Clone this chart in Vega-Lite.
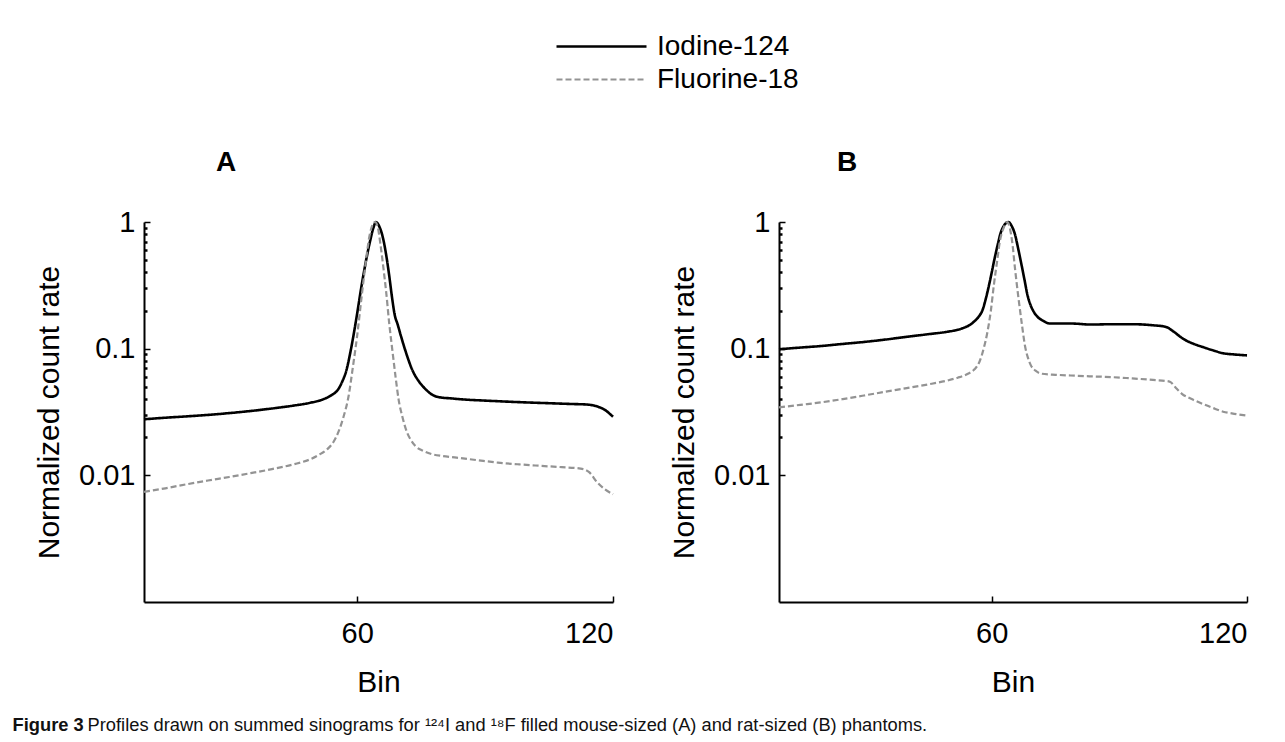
{
  "$schema": "https://vega.github.io/schema/vega-lite/v6.json",
  "padding": {"left": 12, "top": 30, "right": 5, "bottom": 2},
  "background": "white",
  "config": {
    "view": {"stroke": null},
    "font": "Liberation Sans",
    "axis": {"domainColor": "black", "domainWidth": 2, "tickColor": "black", "tickWidth": 1.5, "labelColor": "black", "titleColor": "black", "labelFont": "Liberation Sans", "titleFont": "Liberation Sans", "labelFontSize": 29, "titleFontSize": 30, "titleFontWeight": "normal", "grid": false},
    "legend": {"labelFont": "Liberation Sans", "labelFontSize": 28, "labelColor": "black"}
  },
  "title": {"text": "Figure 3", "orient": "bottom", "anchor": "start", "frame": "bounds", "fontWeight": "bold", "fontSize": 18.3, "font": "Liberation Sans", "color": "#111", "offset": -17, "dx": -22},
  "datasets": {
    "A": [
      {"series": "Iodine-124", "bin": 10, "rate": 0.0277},
      {"series": "Iodine-124", "bin": 15, "rate": 0.0285},
      {"series": "Iodine-124", "bin": 20, "rate": 0.0292},
      {"series": "Iodine-124", "bin": 25, "rate": 0.0300},
      {"series": "Iodine-124", "bin": 30, "rate": 0.0310},
      {"series": "Iodine-124", "bin": 35, "rate": 0.0322},
      {"series": "Iodine-124", "bin": 40, "rate": 0.0337},
      {"series": "Iodine-124", "bin": 45, "rate": 0.0355},
      {"series": "Iodine-124", "bin": 49, "rate": 0.0374},
      {"series": "Iodine-124", "bin": 52, "rate": 0.0398},
      {"series": "Iodine-124", "bin": 54, "rate": 0.0430},
      {"series": "Iodine-124", "bin": 55.5, "rate": 0.0475},
      {"series": "Iodine-124", "bin": 56.5, "rate": 0.055},
      {"series": "Iodine-124", "bin": 57.5, "rate": 0.068},
      {"series": "Iodine-124", "bin": 58.3, "rate": 0.09},
      {"series": "Iodine-124", "bin": 59, "rate": 0.12},
      {"series": "Iodine-124", "bin": 60, "rate": 0.19},
      {"series": "Iodine-124", "bin": 61, "rate": 0.31},
      {"series": "Iodine-124", "bin": 62, "rate": 0.48},
      {"series": "Iodine-124", "bin": 63, "rate": 0.70},
      {"series": "Iodine-124", "bin": 63.8, "rate": 0.90},
      {"series": "Iodine-124", "bin": 64.4, "rate": 1.0},
      {"series": "Iodine-124", "bin": 65.2, "rate": 0.92},
      {"series": "Iodine-124", "bin": 66, "rate": 0.76},
      {"series": "Iodine-124", "bin": 66.8, "rate": 0.55},
      {"series": "Iodine-124", "bin": 67.5, "rate": 0.38},
      {"series": "Iodine-124", "bin": 68.2, "rate": 0.25},
      {"series": "Iodine-124", "bin": 68.8, "rate": 0.185},
      {"series": "Iodine-124", "bin": 69.5, "rate": 0.155},
      {"series": "Iodine-124", "bin": 70.2, "rate": 0.128},
      {"series": "Iodine-124", "bin": 71, "rate": 0.104},
      {"series": "Iodine-124", "bin": 72, "rate": 0.082},
      {"series": "Iodine-124", "bin": 73, "rate": 0.067},
      {"series": "Iodine-124", "bin": 74.5, "rate": 0.055},
      {"series": "Iodine-124", "bin": 76, "rate": 0.048},
      {"series": "Iodine-124", "bin": 77.5, "rate": 0.0435},
      {"series": "Iodine-124", "bin": 79, "rate": 0.0415},
      {"series": "Iodine-124", "bin": 82, "rate": 0.0405},
      {"series": "Iodine-124", "bin": 86, "rate": 0.0395},
      {"series": "Iodine-124", "bin": 90, "rate": 0.0389},
      {"series": "Iodine-124", "bin": 95, "rate": 0.0382},
      {"series": "Iodine-124", "bin": 100, "rate": 0.0376},
      {"series": "Iodine-124", "bin": 105, "rate": 0.0371},
      {"series": "Iodine-124", "bin": 110, "rate": 0.0366},
      {"series": "Iodine-124", "bin": 114, "rate": 0.0362},
      {"series": "Iodine-124", "bin": 116, "rate": 0.0352},
      {"series": "Iodine-124", "bin": 118, "rate": 0.0330},
      {"series": "Iodine-124", "bin": 120, "rate": 0.0290},
      {"series": "Fluorine-18", "bin": 10, "rate": 0.0074},
      {"series": "Fluorine-18", "bin": 15, "rate": 0.0079},
      {"series": "Fluorine-18", "bin": 20, "rate": 0.0085},
      {"series": "Fluorine-18", "bin": 25, "rate": 0.0091},
      {"series": "Fluorine-18", "bin": 30, "rate": 0.0097},
      {"series": "Fluorine-18", "bin": 35, "rate": 0.0104},
      {"series": "Fluorine-18", "bin": 40, "rate": 0.0112},
      {"series": "Fluorine-18", "bin": 45, "rate": 0.0122},
      {"series": "Fluorine-18", "bin": 49, "rate": 0.0134},
      {"series": "Fluorine-18", "bin": 51, "rate": 0.0145},
      {"series": "Fluorine-18", "bin": 53, "rate": 0.0161},
      {"series": "Fluorine-18", "bin": 54.5, "rate": 0.0185},
      {"series": "Fluorine-18", "bin": 55.6, "rate": 0.022},
      {"series": "Fluorine-18", "bin": 56.8, "rate": 0.029},
      {"series": "Fluorine-18", "bin": 58, "rate": 0.0425},
      {"series": "Fluorine-18", "bin": 59, "rate": 0.072},
      {"series": "Fluorine-18", "bin": 60, "rate": 0.127},
      {"series": "Fluorine-18", "bin": 61, "rate": 0.25},
      {"series": "Fluorine-18", "bin": 61.8, "rate": 0.42},
      {"series": "Fluorine-18", "bin": 62.9, "rate": 0.78},
      {"series": "Fluorine-18", "bin": 63.6, "rate": 0.95},
      {"series": "Fluorine-18", "bin": 64.2, "rate": 1.0},
      {"series": "Fluorine-18", "bin": 64.8, "rate": 0.92},
      {"series": "Fluorine-18", "bin": 65.5, "rate": 0.65},
      {"series": "Fluorine-18", "bin": 66.2, "rate": 0.42},
      {"series": "Fluorine-18", "bin": 66.8, "rate": 0.28},
      {"series": "Fluorine-18", "bin": 67.5, "rate": 0.16},
      {"series": "Fluorine-18", "bin": 68.3, "rate": 0.094},
      {"series": "Fluorine-18", "bin": 69, "rate": 0.060},
      {"series": "Fluorine-18", "bin": 69.7, "rate": 0.040},
      {"series": "Fluorine-18", "bin": 70.6, "rate": 0.029},
      {"series": "Fluorine-18", "bin": 71.7, "rate": 0.0218},
      {"series": "Fluorine-18", "bin": 72.6, "rate": 0.019},
      {"series": "Fluorine-18", "bin": 73.6, "rate": 0.0171},
      {"series": "Fluorine-18", "bin": 75.5, "rate": 0.0156},
      {"series": "Fluorine-18", "bin": 77.5, "rate": 0.0147},
      {"series": "Fluorine-18", "bin": 80, "rate": 0.0142},
      {"series": "Fluorine-18", "bin": 83.3, "rate": 0.0138},
      {"series": "Fluorine-18", "bin": 88, "rate": 0.0132},
      {"series": "Fluorine-18", "bin": 93, "rate": 0.0126},
      {"series": "Fluorine-18", "bin": 98, "rate": 0.0122},
      {"series": "Fluorine-18", "bin": 102.7, "rate": 0.0119},
      {"series": "Fluorine-18", "bin": 108, "rate": 0.0116},
      {"series": "Fluorine-18", "bin": 112.4, "rate": 0.0113},
      {"series": "Fluorine-18", "bin": 114.4, "rate": 0.0106},
      {"series": "Fluorine-18", "bin": 116.3, "rate": 0.0088},
      {"series": "Fluorine-18", "bin": 118, "rate": 0.0078},
      {"series": "Fluorine-18", "bin": 120, "rate": 0.0071}
    ],
    "B": [
      {"series": "Iodine-124", "bin": 10, "rate": 0.099},
      {"series": "Iodine-124", "bin": 15, "rate": 0.102},
      {"series": "Iodine-124", "bin": 20, "rate": 0.105},
      {"series": "Iodine-124", "bin": 25, "rate": 0.109},
      {"series": "Iodine-124", "bin": 30, "rate": 0.113},
      {"series": "Iodine-124", "bin": 35, "rate": 0.118},
      {"series": "Iodine-124", "bin": 40, "rate": 0.124},
      {"series": "Iodine-124", "bin": 45, "rate": 0.130},
      {"series": "Iodine-124", "bin": 49.6, "rate": 0.136},
      {"series": "Iodine-124", "bin": 52, "rate": 0.141},
      {"series": "Iodine-124", "bin": 53.4, "rate": 0.146},
      {"series": "Iodine-124", "bin": 55, "rate": 0.155},
      {"series": "Iodine-124", "bin": 55.8, "rate": 0.163},
      {"series": "Iodine-124", "bin": 57, "rate": 0.180},
      {"series": "Iodine-124", "bin": 57.8, "rate": 0.20},
      {"series": "Iodine-124", "bin": 58.5, "rate": 0.24},
      {"series": "Iodine-124", "bin": 59.2, "rate": 0.30},
      {"series": "Iodine-124", "bin": 60, "rate": 0.40},
      {"series": "Iodine-124", "bin": 60.7, "rate": 0.52},
      {"series": "Iodine-124", "bin": 61.4, "rate": 0.66},
      {"series": "Iodine-124", "bin": 62.1, "rate": 0.82},
      {"series": "Iodine-124", "bin": 63, "rate": 0.95},
      {"series": "Iodine-124", "bin": 63.9, "rate": 1.0},
      {"series": "Iodine-124", "bin": 64.7, "rate": 0.93},
      {"series": "Iodine-124", "bin": 65.5, "rate": 0.79},
      {"series": "Iodine-124", "bin": 66.2, "rate": 0.62},
      {"series": "Iodine-124", "bin": 67, "rate": 0.46},
      {"series": "Iodine-124", "bin": 67.7, "rate": 0.35},
      {"series": "Iodine-124", "bin": 68.4, "rate": 0.265},
      {"series": "Iodine-124", "bin": 69.1, "rate": 0.222},
      {"series": "Iodine-124", "bin": 69.9, "rate": 0.195},
      {"series": "Iodine-124", "bin": 70.8, "rate": 0.178},
      {"series": "Iodine-124", "bin": 71.8, "rate": 0.168},
      {"series": "Iodine-124", "bin": 73.7, "rate": 0.158},
      {"series": "Iodine-124", "bin": 78.6, "rate": 0.158},
      {"series": "Iodine-124", "bin": 83.4, "rate": 0.155},
      {"series": "Iodine-124", "bin": 88.3, "rate": 0.156},
      {"series": "Iodine-124", "bin": 93.1, "rate": 0.156},
      {"series": "Iodine-124", "bin": 97.9, "rate": 0.153},
      {"series": "Iodine-124", "bin": 100.8, "rate": 0.149},
      {"series": "Iodine-124", "bin": 102.8, "rate": 0.136},
      {"series": "Iodine-124", "bin": 104.2, "rate": 0.125},
      {"series": "Iodine-124", "bin": 105.7, "rate": 0.116},
      {"series": "Iodine-124", "bin": 107.5, "rate": 0.109},
      {"series": "Iodine-124", "bin": 109.6, "rate": 0.103},
      {"series": "Iodine-124", "bin": 112, "rate": 0.097},
      {"series": "Iodine-124", "bin": 114.4, "rate": 0.092},
      {"series": "Iodine-124", "bin": 117, "rate": 0.090},
      {"series": "Iodine-124", "bin": 120, "rate": 0.0885},
      {"series": "Fluorine-18", "bin": 10, "rate": 0.0344},
      {"series": "Fluorine-18", "bin": 15, "rate": 0.036},
      {"series": "Fluorine-18", "bin": 20, "rate": 0.0377},
      {"series": "Fluorine-18", "bin": 25, "rate": 0.040},
      {"series": "Fluorine-18", "bin": 30, "rate": 0.0427},
      {"series": "Fluorine-18", "bin": 35, "rate": 0.0457},
      {"series": "Fluorine-18", "bin": 40, "rate": 0.0488},
      {"series": "Fluorine-18", "bin": 45, "rate": 0.0522},
      {"series": "Fluorine-18", "bin": 49.6, "rate": 0.0561},
      {"series": "Fluorine-18", "bin": 52, "rate": 0.059},
      {"series": "Fluorine-18", "bin": 54.4, "rate": 0.0634},
      {"series": "Fluorine-18", "bin": 56, "rate": 0.069},
      {"series": "Fluorine-18", "bin": 57.1, "rate": 0.0784},
      {"series": "Fluorine-18", "bin": 58.1, "rate": 0.100},
      {"series": "Fluorine-18", "bin": 59, "rate": 0.136},
      {"series": "Fluorine-18", "bin": 59.8, "rate": 0.20},
      {"series": "Fluorine-18", "bin": 60.5, "rate": 0.318},
      {"series": "Fluorine-18", "bin": 61.3, "rate": 0.50},
      {"series": "Fluorine-18", "bin": 61.9, "rate": 0.70},
      {"series": "Fluorine-18", "bin": 62.8, "rate": 0.90},
      {"series": "Fluorine-18", "bin": 63.7, "rate": 1.0},
      {"series": "Fluorine-18", "bin": 64.3, "rate": 0.88},
      {"series": "Fluorine-18", "bin": 64.8, "rate": 0.70},
      {"series": "Fluorine-18", "bin": 65.5, "rate": 0.42},
      {"series": "Fluorine-18", "bin": 66.3, "rate": 0.249},
      {"series": "Fluorine-18", "bin": 67.1, "rate": 0.155},
      {"series": "Fluorine-18", "bin": 67.8, "rate": 0.106},
      {"series": "Fluorine-18", "bin": 68.5, "rate": 0.085},
      {"series": "Fluorine-18", "bin": 69.2, "rate": 0.0738},
      {"series": "Fluorine-18", "bin": 70.3, "rate": 0.067},
      {"series": "Fluorine-18", "bin": 71.8, "rate": 0.0634},
      {"series": "Fluorine-18", "bin": 75, "rate": 0.0622},
      {"series": "Fluorine-18", "bin": 78.6, "rate": 0.0614},
      {"series": "Fluorine-18", "bin": 83, "rate": 0.0605},
      {"series": "Fluorine-18", "bin": 88.3, "rate": 0.0596},
      {"series": "Fluorine-18", "bin": 93, "rate": 0.0582},
      {"series": "Fluorine-18", "bin": 97.9, "rate": 0.0567},
      {"series": "Fluorine-18", "bin": 101.8, "rate": 0.055},
      {"series": "Fluorine-18", "bin": 103.3, "rate": 0.049},
      {"series": "Fluorine-18", "bin": 104.7, "rate": 0.044},
      {"series": "Fluorine-18", "bin": 107, "rate": 0.040},
      {"series": "Fluorine-18", "bin": 109.6, "rate": 0.0366},
      {"series": "Fluorine-18", "bin": 112, "rate": 0.034},
      {"series": "Fluorine-18", "bin": 114.4, "rate": 0.0318},
      {"series": "Fluorine-18", "bin": 117, "rate": 0.0306},
      {"series": "Fluorine-18", "bin": 120, "rate": 0.0296}
    ]
  },
  "vconcat": [
    {
      "title": {"text": "Profiles drawn on summed sinograms for ¹²⁴I and ¹⁸F filled mouse-sized (A) and rat-sized (B) phantoms.", "orient": "bottom", "anchor": "start", "frame": "bounds", "fontWeight": "normal", "fontSize": 18.3, "font": "Liberation Sans", "color": "#111", "dx": 53, "offset": 20},
      "resolve": {"scale": {"color": "shared", "strokeDash": "shared", "strokeWidth": "shared"}},
      "spacing": 50,
      "hconcat": [
        {
          "width": 469,
          "height": 380,
          "data": {"name": "A"},
          "title": {"text": "A", "anchor": "start", "frame": "group", "dx": 72, "offset": 31, "fontSize": 28, "fontWeight": "bold", "font": "Liberation Sans", "color": "black"},
          "mark": {"type": "line", "interpolate": "monotone"},
          "encoding": {
            "x": {"field": "bin", "type": "quantitative", "scale": {"domain": [10, 120], "nice": false, "zero": false}, "axis": {"values": [60, 120], "format": "d", "tickSize": -6, "labelPadding": 23, "title": "Bin", "titlePadding": 19}},
            "y": {"field": "rate", "type": "quantitative", "scale": {"type": "log", "domain": [0.001, 1], "nice": false}, "axis": {
              "values": [0.01, 0.02, 0.03, 0.04, 0.05, 0.06, 0.07, 0.08, 0.09, 0.1, 0.2, 0.3, 0.4, 0.5, 0.6, 0.7, 0.8, 0.9, 1],
              "labelExpr": "datum.value == 1 ? '1' : datum.value == 0.1 ? '0.1' : datum.value == 0.01 ? '0.01' : ''",
              "tickSize": -6,
              "tickOpacity": {"condition": {"test": "datum.value == 1 || datum.value == 0.1 || datum.value == 0.01", "value": 1}, "value": 0},
              "grid": true, "gridColor": "black", "gridWidth": 2.5, "gridDash": [3, 3000],
              "gridOpacity": {"condition": {"test": "datum.value == 1 || datum.value == 0.1 || datum.value == 0.01", "value": 0}, "value": 1},
              "labelPadding": 15, "title": "Normalized count rate", "titlePadding": 14}},
            "color": {"field": "series", "type": "nominal", "scale": {"domain": ["Iodine-124", "Fluorine-18"], "range": ["#000000", "#939393"]}, "legend": {"orient": "none", "legendX": 441, "legendY": -192, "title": null, "symbolType": "M-3,0H3", "symbolSize": 900, "symbolStrokeWidth": 2.5, "rowPadding": 2, "labelOffset": 39}},
            "strokeDash": {"field": "series", "type": "nominal", "scale": {"domain": ["Iodine-124", "Fluorine-18"], "range": [[1, 0], [6, 3]]}, "legend": {"orient": "none", "legendX": 441, "legendY": -192, "title": null, "symbolType": "M-3,0H3", "symbolSize": 900, "symbolStrokeWidth": 2.5, "rowPadding": 2, "labelOffset": 39}},
            "strokeWidth": {"field": "series", "type": "nominal", "scale": {"domain": ["Iodine-124", "Fluorine-18"], "range": [2.6, 2.2]}, "legend": null}
          }
        },
        {
          "width": 468,
          "height": 380,
          "data": {"name": "B"},
          "title": {"text": "B", "anchor": "start", "frame": "group", "dx": 58, "offset": 31, "fontSize": 28, "fontWeight": "bold", "font": "Liberation Sans", "color": "black"},
          "mark": {"type": "line", "interpolate": "monotone"},
          "encoding": {
            "x": {"field": "bin", "type": "quantitative", "scale": {"domain": [10, 120], "nice": false, "zero": false}, "axis": {"values": [60, 120], "format": "d", "tickSize": -6, "labelPadding": 23, "title": "Bin", "titlePadding": 19}},
            "y": {"field": "rate", "type": "quantitative", "scale": {"type": "log", "domain": [0.001, 1], "nice": false}, "axis": {
              "values": [0.01, 0.02, 0.03, 0.04, 0.05, 0.06, 0.07, 0.08, 0.09, 0.1, 0.2, 0.3, 0.4, 0.5, 0.6, 0.7, 0.8, 0.9, 1],
              "labelExpr": "datum.value == 1 ? '1' : datum.value == 0.1 ? '0.1' : datum.value == 0.01 ? '0.01' : ''",
              "tickSize": -6,
              "tickOpacity": {"condition": {"test": "datum.value == 1 || datum.value == 0.1 || datum.value == 0.01", "value": 1}, "value": 0},
              "grid": true, "gridColor": "black", "gridWidth": 2.5, "gridDash": [3, 3000],
              "gridOpacity": {"condition": {"test": "datum.value == 1 || datum.value == 0.1 || datum.value == 0.01", "value": 0}, "value": 1},
              "labelPadding": 15, "title": "Normalized count rate", "titlePadding": 14}},
            "color": {"field": "series", "type": "nominal", "scale": {"domain": ["Iodine-124", "Fluorine-18"], "range": ["#000000", "#939393"]}},
            "strokeDash": {"field": "series", "type": "nominal", "scale": {"domain": ["Iodine-124", "Fluorine-18"], "range": [[1, 0], [6, 3]]}},
            "strokeWidth": {"field": "series", "type": "nominal", "scale": {"domain": ["Iodine-124", "Fluorine-18"], "range": [2.6, 2.2]}, "legend": null}
          }
        }
      ]
    }
  ]
}
